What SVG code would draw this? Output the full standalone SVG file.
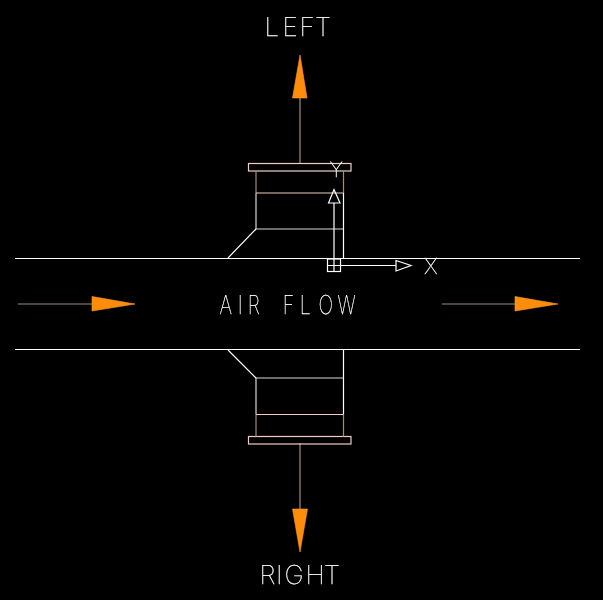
<svg xmlns="http://www.w3.org/2000/svg" width="603" height="600" viewBox="0 0 603 600">
<style>
.w{stroke:#fff;stroke-width:1.2;fill:none}
.g{stroke:#d8d8d8;stroke-width:1.2;fill:none}
.r{stroke:#f0cfc0;stroke-width:1.2;fill:none}
.l{stroke:#a58a80;stroke-width:1.2;fill:none}
.h{fill:#ff8c0a;stroke:#ff9a2a;stroke-width:.6}
.t{font-family:"Inter","Liberation Sans",sans-serif;font-weight:100;fill:#fff;stroke:#fff;stroke-width:.3;text-rendering:geometricPrecision;filter:url(#gray)}
</style>
<defs><filter id="gray" x="-20%" y="-20%" width="140%" height="140%" color-interpolation-filters="sRGB"><feOffset dx="0" dy="0"/></filter></defs>
<rect width="603" height="600" fill="#000"/>
<g id="connectors">
<path class="l" d="M18 304H92M442 304H515M300 98V164M300 443V510"/>
<polygon class="h" points="92,296.500 135,304 92,311"/>
<polygon class="h" points="515,296.500 558,304 515,311"/>
<polygon class="h" points="300,55 307,98 292.500,98"/>
<polygon class="h" points="292.500,509 307.500,509 300,552"/>
</g>
<g id="duct">
<path class="w" d="M15 258.500H580M15 349.500H580"/>
<text class="t" transform="scale(.75 1)" x="292.800 316.900 330.300 350 376.900 399.600 424.700 450" y="314" font-size="26">AIR FLOW</text>
</g>
<g id="top-outlet">
<rect class="r" x="248.500" y="163.500" width="102.500" height="7.500"/>
<path class="l" d="M256 171V193M343.500 171V193"/>
<path class="r" d="M256 193H343.500"/>
<path class="g" d="M256 193V229H343"/>
<path class="w" d="M343.500 193V258M256 229L228 258"/>
</g>
<g id="bottom-outlet">
<rect class="r" x="248.500" y="436.500" width="102.500" height="7.500"/>
<path class="l" d="M256 414V436.500M343.500 414V436.500"/>
<path class="r" d="M256 414.500H343.500"/>
<path class="g" d="M256 414V378H343"/>
<path class="w" d="M343.500 350V414M228 350L256 378"/>
</g>
<g id="ucs-icon">
<rect class="w" x="327.500" y="259" width="13" height="12.500"/>
<path class="w" d="M334 259V271.500M327.500 265.500H340.500M334 259V203M340.500 265.500H396"/>
<polygon class="w" points="328.500,203 334,189.500 340,203"/>
<polygon class="w" points="396,260.500 411,265.500 396,271"/>
<text class="t" x="329.500" y="177" font-size="21">Y</text>
<text class="t" x="424" y="274" font-size="22">X</text>
</g>
<g id="label-left"><text class="t" x="264.500 282.500 299.500 315" y="36" font-size="26">LEFT</text></g>
<g id="label-right"><text class="t" x="259.500 276 284.500 305.500 324" y="584" font-size="26">RIGHT</text></g>
</svg>
